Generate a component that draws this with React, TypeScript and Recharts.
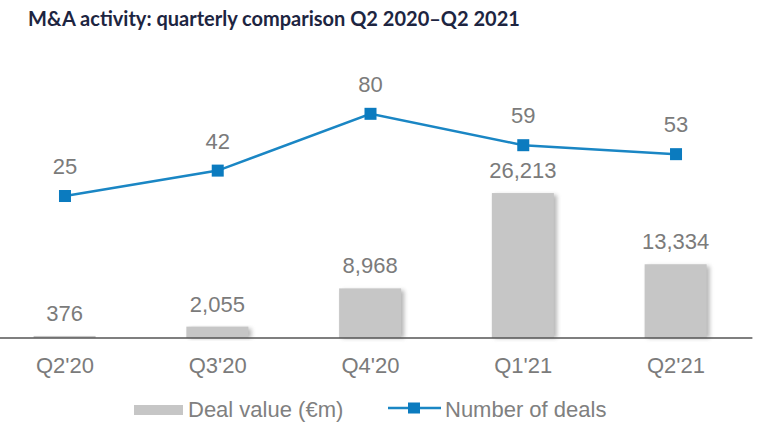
import React from 'react';
import { ComposedChart, Bar, Line, XAxis, YAxis, LabelList, Legend } from 'recharts';

const quarters = ["Q2'20", "Q3'20", "Q4'20", "Q1'21", "Q2'21"];
const dealValue = [376, 2055, 8968, 26213, 13334];
const dealCount = [25, 42, 80, 59, 53];

const data = quarters.map((q, i) => ({ q, value: dealValue[i], count: dealCount[i] }));

const FONT = '"Liberation Sans", Arial, sans-serif';
const LABEL_GREY = '#7b7b7b';
const BLUE = '#1a86c4';
const MARKER = '#0b7bbf';
const BAR = '#c6c6c6';

const BarShape = (props: any) => {
  const { x, y, width, height, index } = props;
  if (height == null || height <= 0) return null;
  const id = `bshadow-${index}`;
  return (
    <g>
      <defs>
        <filter id={id} x="-30%" y="-30%" width="160%" height="160%">
          <feGaussianBlur stdDeviation="2.2" />
        </filter>
      </defs>
      <rect x={x + 3} y={y + 2} width={width} height={Math.max(height - 2, 0)} fill="#7a7a7a" opacity={0.55} filter={`url(#${id})`} />
      <rect x={x} y={y} width={width} height={height} fill={BAR} />
    </g>
  );
};

const SquareDot = (props: any) => {
  const { cx, cy } = props;
  if (cx == null || cy == null) return null;
  return <rect x={cx - 6} y={cy - 6} width={12} height={12} fill={MARKER} />;
};

const fmt = (v: any) => Number(v).toLocaleString('en-US');

const LegendContent = () => (
  <div style={{ position: 'relative', width: 800, height: 30, fontFamily: FONT, fontSize: 22, color: '#808080', lineHeight: '26px' }}>
    <div style={{ position: 'absolute', left: 154, top: 8, width: 49, height: 10, background: BAR }} />
    <span style={{ position: 'absolute', left: 208, top: 0, whiteSpace: 'nowrap' }}>Deal value (€m)</span>
    <svg style={{ position: 'absolute', left: 408, top: 0 }} width={54} height={26}>
      <line x1={0} y1={11} x2={53} y2={11} stroke={BLUE} strokeWidth={2.5} />
      <rect x={20} y={5.5} width={12} height={11} fill={MARKER} />
    </svg>
    <span style={{ position: 'absolute', left: 465, top: 0, whiteSpace: 'nowrap' }}>Number of deals</span>
  </div>
);

export default function App() {
  return (
    <div style={{ position: 'absolute', left: 0, top: 0, width: 780, height: 440, overflow: 'hidden', background: '#ffffff' }}>
      <div
        style={{
          position: 'absolute',
          left: 28,
          top: 6,
          fontFamily: 'Lato, "Open Sans", sans-serif',
          fontWeight: 700,
          fontSize: 20,
          color: '#1d2541',
          whiteSpace: 'nowrap',
          lineHeight: '24px',
        }}
      >
        M&amp;A activity: quarterly comparison Q2 2020–Q2 2021
      </div>
      <div style={{ position: 'absolute', left: -20, top: 0 }}>
        <ComposedChart
          width={800}
          height={440}
          data={data}
          margin={{ top: 61.5, right: 27.6, bottom: 42, left: 8.6 }}
        >
          <XAxis
            dataKey="q"
            axisLine={{ stroke: '#555555', strokeWidth: 1.5 }}
            tickLine={false}
            tickSize={6}
            tickMargin={13}
            height={30}
            interval={0}
            tick={{ fill: LABEL_GREY, fontSize: 22, fontFamily: FONT }}
          />
          <YAxis yAxisId="bar" hide domain={[0, 50000]} />
          <YAxis yAxisId="line" hide domain={[-70, 115]} orientation="right" />
          <Bar yAxisId="bar" dataKey="value" barSize={62} shape={<BarShape />} isAnimationActive={false} name="Deal value (€m)">
            <LabelList dataKey="value" position="top" offset={15} formatter={fmt} fill={LABEL_GREY} fontSize={22} fontFamily={FONT} />
          </Bar>
          <Line
            yAxisId="line"
            dataKey="count"
            stroke={BLUE}
            strokeWidth={2.5}
            dot={<SquareDot />}
            activeDot={false}
            isAnimationActive={false}
            name="Number of deals"
          >
            <LabelList dataKey="count" position="top" offset={22} fill={LABEL_GREY} fontSize={22} fontFamily={FONT} />
          </Line>
          <Legend
            verticalAlign="bottom"
            content={<LegendContent />}
            wrapperStyle={{ position: 'absolute', top: 397, left: 0, bottom: 'auto', width: 800, height: 30 }}
          />
        </ComposedChart>
      </div>
    </div>
  );
}
